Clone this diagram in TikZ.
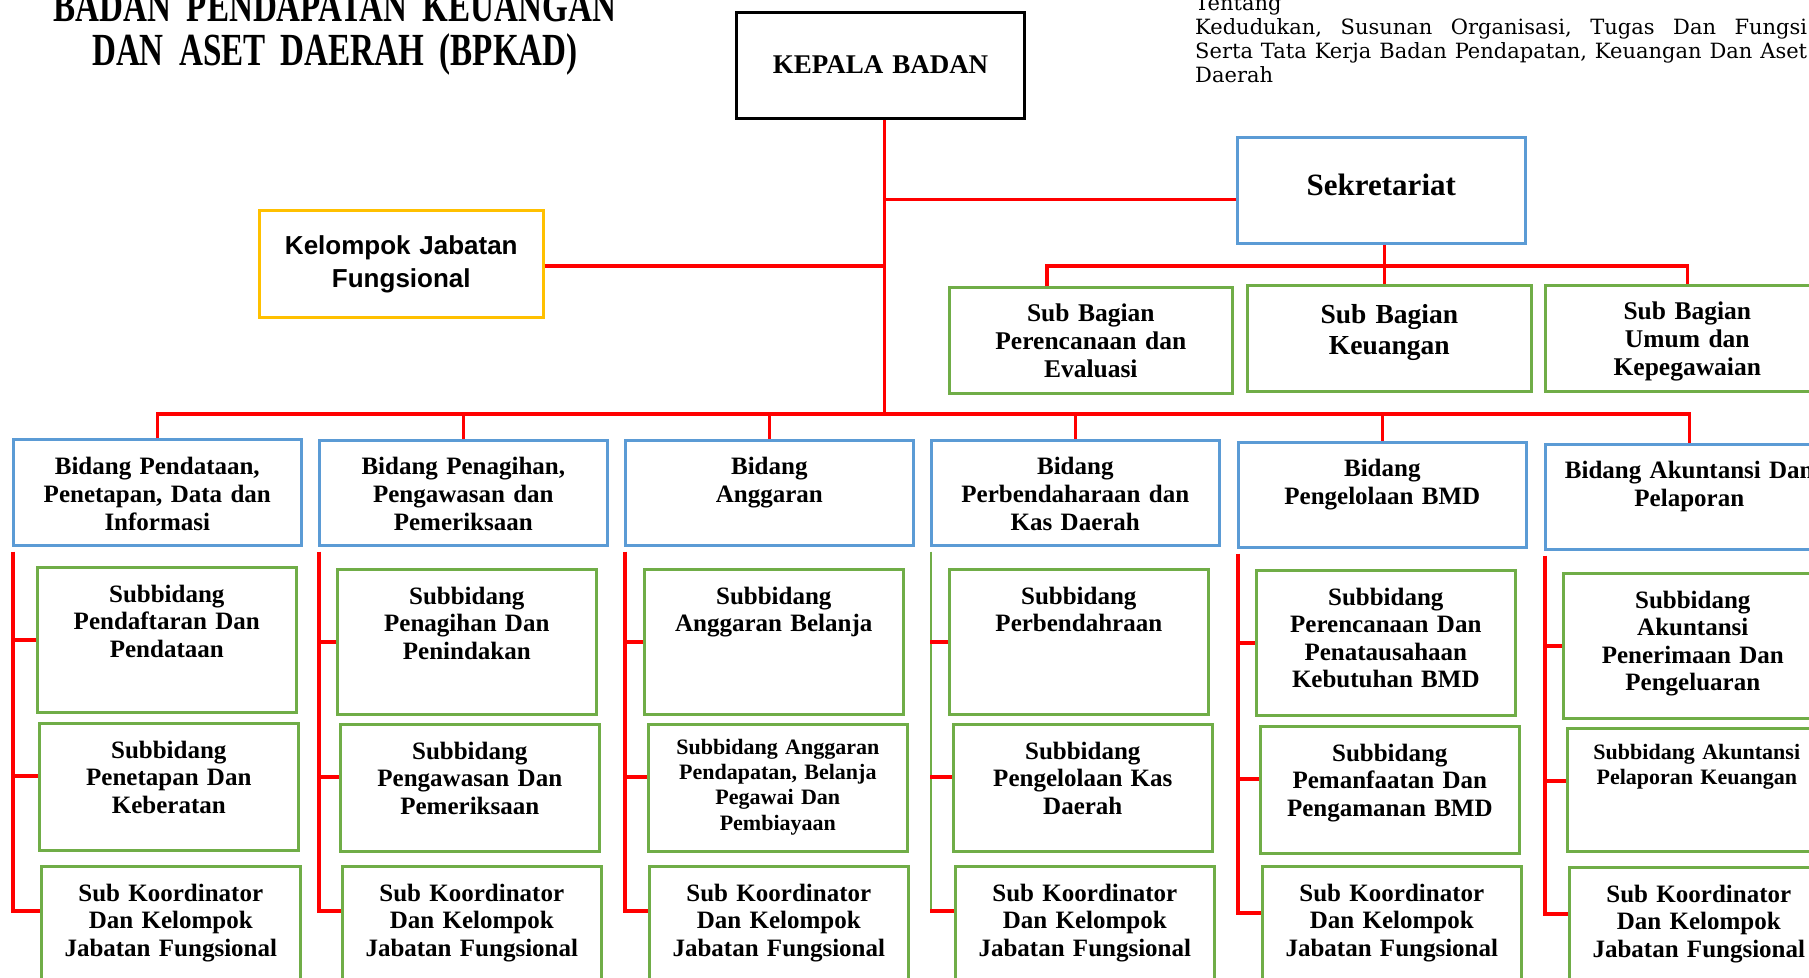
\documentclass[tikz,border=0pt]{standalone}
\usepackage{fontspec}
\setmainfont{Liberation Serif}
\newfontfamily\condfont{Liberation Serif}[FakeStretch=0.72]
\newfontfamily\notefont{DejaVu Serif}
\newfontfamily\arialfont{Liberation Sans}
\definecolor{bdblue}{HTML}{5B9BD5}
\definecolor{sbgreen}{HTML}{70AD47}
\definecolor{kjyellow}{HTML}{FFC000}

\begin{document}
\begin{tikzpicture}[x=1pt,y=-1pt,
  link/.style={draw=red,line width=3.5pt},
  box/.style={rectangle,line width=2.6pt,inner sep=0pt,align=center,anchor=north west},
  bidang/.style={box,draw=bdblue,text width=288pt,text height=34pt,text depth=71pt,
    font=\bfseries\fontsize{25}{28}\selectfont},
  subbag/.style={box,draw=sbgreen,text width=283pt,text height=34pt,text depth=72pt,
    font=\bfseries\fontsize{25.5}{28}\selectfont},
  subbid/.style={box,draw=sbgreen,text width=259pt,text height=35pt,
    font=\bfseries\fontsize{25}{27.5}\selectfont},
  rowa/.style={subbid,text depth=110pt},
  rowb/.style={subbid,text depth=92pt},
  rowc/.style={subbid,text depth=100pt},
  small/.style={text height=30pt,text depth=97pt,font=\bfseries\fontsize{22}{25.3}\selectfont}]
  \useasboundingbox (0,0) rectangle (1809,977);
  \clip (0,0) rectangle (1809,977);

  % judul dan keterangan
  \node[text width=640pt,align=center,anchor=base,font=\condfont\bfseries\fontsize{46}{44}\selectfont]
    (judul) at (335,21) {BADAN PENDAPATAN KEUANGAN\\DAN ASET DAERAH (BPKAD)};
  \node[text width=612pt,align=left,anchor=base west,inner sep=0pt,font=\notefont\fontsize{21}{24.2}\selectfont]
    (catatan) at (1195,10) {Tentang\\
    \makebox[612pt][l]{Kedudukan,\hfill Susunan\hfill Organisasi,\hfill Tugas\hfill Dan\hfill Fungsi}\\
    \makebox[612pt][l]{Serta\hfill Tata\hfill Kerja\hfill Badan\hfill Pendapatan,\hfill Keuangan\hfill Dan\hfill Aset}\\
    Daerah};

  % pimpinan
  \node[box,draw=black,line width=3pt,text width=288pt,text height=61pt,text depth=45pt,
    font=\bfseries\fontsize{27}{30}\selectfont] (kepala) at (735,11) {KEPALA BADAN};
  \node[box,draw=bdblue,text width=288pt,text height=58pt,text depth=48pt,
    font=\bfseries\fontsize{31}{34}\selectfont] (sekr) at (1236,136) {Sekretariat};
  \node[box,draw=kjyellow,text width=284pt,text height=44pt,text depth=63pt,
    font=\arialfont\bfseries\fontsize{26}{33}\selectfont] (kjf) at (258,209) {Kelompok Jabatan\\Fungsional};

  % sub bagian
  \node[subbag] (sb1) at (948,286) {Sub Bagian\\Perencanaan dan\\Evaluasi};
  \node[subbag,text width=284pt,text height=38pt,text depth=68pt,
    font=\bfseries\fontsize{27.5}{31}\selectfont] (sb2) at (1246,284) {Sub Bagian\\Keuangan};
  \node[subbag,text width=284pt] (sb3) at (1544,284) {Sub Bagian\\Umum dan\\Kepegawaian};

  % bidang
  \node[bidang,text height=35pt] (bd1) at (12,438) {Bidang Pendataan,\\Penetapan, Data dan\\Informasi};
  \node[bidang] (bd2) at (318,439) {Bidang Penagihan,\\Pengawasan dan\\Pemeriksaan};
  \node[bidang] (bd3) at (624,439) {Bidang\\Anggaran};
  \node[bidang] (bd4) at (930,439) {Bidang\\Perbendaharaan dan\\Kas Daerah};
  \node[bidang] (bd5) at (1237,441) {Bidang\\Pengelolaan BMD};
  \node[bidang] (bd6) at (1544,443) {Bidang Akuntansi Dan\\Pelaporan};

  % subbidang
  \node[rowa] (s1a) at (36,566) {Subbidang\\Pendaftaran Dan\\Pendataan};
  \node[rowb] (s1b) at (38,722) {Subbidang\\Penetapan Dan\\Keberatan};
  \node[rowc] (s1c) at (40,865) {Sub Koordinator\\Dan Kelompok\\Jabatan Fungsional};
  \node[rowa] (s2a) at (336,568) {Subbidang\\Penagihan Dan\\Penindakan};
  \node[rowb] (s2b) at (339,723) {Subbidang\\Pengawasan Dan\\Pemeriksaan};
  \node[rowc] (s2c) at (341,865) {Sub Koordinator\\Dan Kelompok\\Jabatan Fungsional};
  \node[rowa] (s3a) at (643,568) {Subbidang\\Anggaran Belanja};
  \node[rowb,small] (s3b) at (647,723) {Subbidang Anggaran\\Pendapatan, Belanja\\Pegawai Dan\\Pembiayaan};
  \node[rowc] (s3c) at (648,865) {Sub Koordinator\\Dan Kelompok\\Jabatan Fungsional};
  \node[rowa] (s4a) at (948,568) {Subbidang\\Perbendahraan};
  \node[rowb] (s4b) at (952,723) {Subbidang\\Pengelolaan Kas\\Daerah};
  \node[rowc] (s4c) at (954,865) {Sub Koordinator\\Dan Kelompok\\Jabatan Fungsional};
  \node[rowa] (s5a) at (1255,569) {Subbidang\\Perencanaan Dan\\Penatausahaan\\Kebutuhan BMD};
  \node[rowb] (s5b) at (1259,725) {Subbidang\\Pemanfaatan Dan\\Pengamanan BMD};
  \node[rowc] (s5c) at (1261,865) {Sub Koordinator\\Dan Kelompok\\Jabatan Fungsional};
  \node[rowa] (s6a) at (1562,572) {Subbidang\\Akuntansi\\Penerimaan Dan\\Pengeluaran};
  \node[rowb,small,text height=31pt,text depth=92pt] (s6b) at (1566,727) {Subbidang Akuntansi\\Pelaporan Keuangan};
  \node[rowc] (s6c) at (1568,866) {Sub Koordinator\\Dan Kelompok\\Jabatan Fungsional};

  % garis
  \coordinate (trunk) at ([xshift=4pt]kepala.south);
  \coordinate (bus) at (883,414);
  \coordinate (sbus) at (1383,266);
  \draw[link] (trunk) -- (trunk |- bus);
  \draw[link] ([yshift=-2pt]kjf.east) -- ([yshift=-2pt]kjf.east -| trunk);
  \draw[link] ([yshift=-9pt]sekr.west) -- ([yshift=-9pt]sekr.west -| trunk);
  \draw[link] ([xshift=3pt]sekr.south) -- ([xshift=3pt]sekr.south |- sb2.north);
  \draw[link] ([xshift=-44pt]sb1.north) |- (sbus) -| (sb3.north);
  \draw[link] (bd1.north) |- (bus) -| (bd6.north);
  \draw[link] (bd2.north) -- (bd2.north |- bus);
  \draw[link] (bd3.north) -- (bd3.north |- bus);
  \draw[link] (bd4.north) -- (bd4.north |- bus);
  \draw[link] (bd5.north) -- (bd5.north |- bus);

  \coordinate (k1b) at ([yshift=-54pt]s1b.north west);
  \coordinate (k1c) at ([yshift=-46pt]s1c.north west);
  \coordinate (k2b) at ([yshift=-54pt]s2b.north west);
  \coordinate (k2c) at ([yshift=-46pt]s2c.north west);
  \coordinate (k3b) at ([yshift=-54pt]s3b.north west);
  \coordinate (k3c) at ([yshift=-46pt]s3c.north west);
  \coordinate (k4b) at ([yshift=-54pt]s4b.north west);
  \coordinate (k4c) at ([yshift=-46pt]s4c.north west);
  \coordinate (k5b) at ([yshift=-54pt]s5b.north west);
  \coordinate (k5c) at ([yshift=-48pt]s5c.north west);
  \coordinate (k6b) at ([yshift=-54pt]s6b.north west);
  \coordinate (k6c) at ([yshift=-48pt]s6c.north west);

  \draw[link] ([xshift=1pt,yshift=-5pt]bd1.south west) |- (k1c)
    (s1a.west) -- (s1a.west -| bd1.west) (k1b) -- (k1b -| bd1.west);
  \draw[link] ([xshift=1pt,yshift=-5pt]bd2.south west) |- (k2c)
    (s2a.west) -- (s2a.west -| bd2.west) (k2b) -- (k2b -| bd2.west);
  \draw[link] ([xshift=1pt,yshift=-5pt]bd3.south west) |- (k3c)
    (s3a.west) -- (s3a.west -| bd3.west) (k3b) -- (k3b -| bd3.west);
  \draw[link,draw=sbgreen,line width=2pt] ([xshift=1pt,yshift=-5pt]bd4.south west) |- (k4c);
  \draw[link] (k4c) -- (k4c -| bd4.west)
    (s4a.west) -- (s4a.west -| bd4.west) (k4b) -- (k4b -| bd4.west);
  \draw[link] ([xshift=1pt,yshift=-5pt]bd5.south west) |- (k5c)
    (s5a.west) -- (s5a.west -| bd5.west) (k5b) -- (k5b -| bd5.west);
  \draw[link] ([xshift=1pt,yshift=-5pt]bd6.south west) |- (k6c)
    (s6a.west) -- (s6a.west -| bd6.west) (k6b) -- (k6b -| bd6.west);
\end{tikzpicture}
\end{document}
